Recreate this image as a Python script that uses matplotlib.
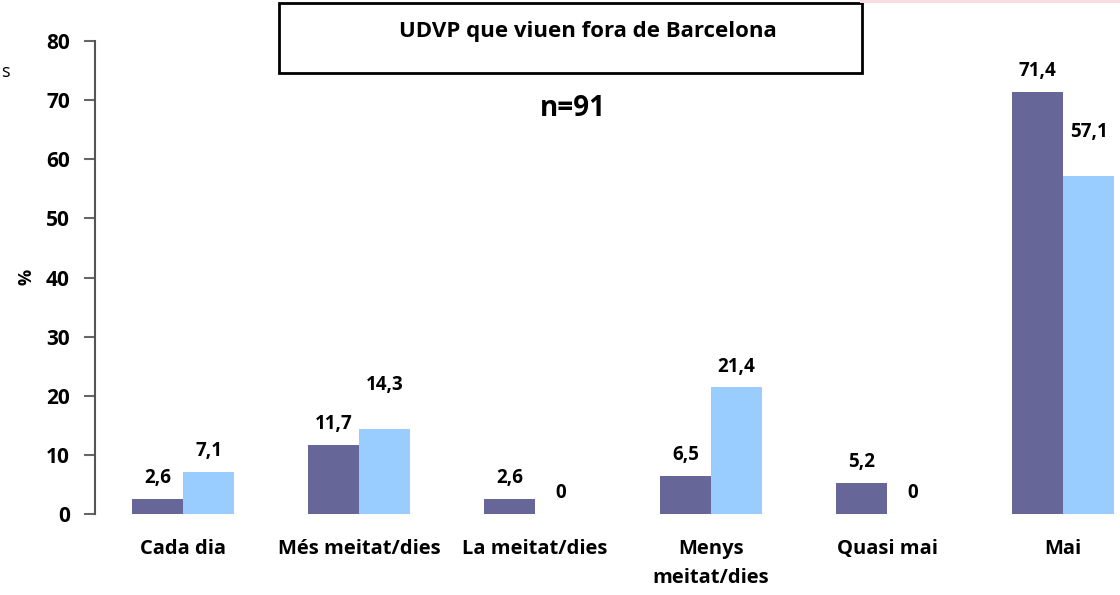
import matplotlib.pyplot as plt
import matplotlib.patches as mpatches
import numpy as np

# dades del grafic
categories = ['Cada dia', 'Més meitat/dies', 'La meitat/dies', 'Menys\nmeitat/dies', 'Quasi mai', 'Mai']
serie_a = [2.6, 11.7, 2.6, 6.5, 5.2, 71.4]
serie_b = [7.1, 14.3, 0, 21.4, 0, 57.1]
yticks = [0, 10, 20, 30, 40, 50, 60, 70, 80]

color_a = '#666699'
color_b = '#99CCFF'

# etiquetes desplaçades a ma a l'original (serie, categoria)
raised = [(1, 1), (1, 5)]

plt.rcParams['font.family'] = ['Open Sans', 'DejaVu Sans']
plt.rcParams['font.weight'] = 'bold'

fig = plt.figure(figsize=(11.2, 5.95), dpi=100)
ax = fig.add_axes([95 / 1120, 81 / 595, (1120 - 95) / 1120, 473 / 595])

x = np.arange(len(categories))
w = 0.29
bars_a = ax.bar(x - w / 2, serie_a, w, color=color_a)
bars_b = ax.bar(x + w / 2, serie_b, w, color=color_b)

def fmt(v):
    if v == 0:
        return '0'
    return ('%.1f' % v).replace('.', ',')

for si, (bars, vals) in enumerate([(bars_a, serie_a), (bars_b, serie_b)]):
    for ci, (b, v) in enumerate(zip(bars, vals)):
        off = 32 if (si, ci) in raised else 15
        ax.annotate(fmt(v), (b.get_x() + b.get_width() / 2, v),
                    xytext=(0, off), textcoords='offset points',
                    ha='center', va='center', fontsize=13.5, fontweight='bold')

ax.set_xlim(-0.5, (1120 - 95) / 176 - 0.5)
ax.set_ylim(0, 80)
ax.set_yticks(yticks)
ax.set_xticks(x)
ax.set_xticklabels(categories, fontsize=14.5, fontweight='bold', linespacing=1.6)
ax.tick_params(axis='x', length=0, pad=18)
ax.tick_params(axis='y', length=8, width=1.5, color='#666666', labelsize=15, pad=10)
for lab in ax.get_yticklabels():
    lab.set_fontweight('bold')

for s in ['top', 'right', 'bottom']:
    ax.spines[s].set_visible(False)
ax.spines['left'].set_color('#555555')
ax.spines['left'].set_linewidth(1.5)

fig.text(27 / 1120, 1 - 277 / 595, '%', rotation=90, ha='center', va='center',
         fontsize=13, fontweight='bold')

# requadre del titol
box = mpatches.Rectangle((279 / 1120, 1 - 73 / 595), (862 - 279) / 1120, 70 / 595,
                         transform=fig.transFigure, fill=False, edgecolor='black',
                         linewidth=2)
fig.add_artist(box)
fig.text(588 / 1120, 1 - 32 / 595, 'UDVP que viuen fora de Barcelona', ha='center',
         va='center', fontsize=16, fontweight='bold')
fig.text(573 / 1120, 1 - 108 / 595, 'n=91', ha='center', va='center',
         fontsize=20, fontweight='bold')

# restes de la diapositiva
fig.text(1 / 1120, 1 - 72 / 595, 's', ha='left', va='center', fontsize=13,
         fontweight='normal')
fig.add_artist(mpatches.Rectangle((860 / 1120, 1 - 3 / 595), 260 / 1120, 3 / 595,
                                  transform=fig.transFigure, color='#f8dde3', lw=0))

fig.savefig('out.png', dpi=100)
